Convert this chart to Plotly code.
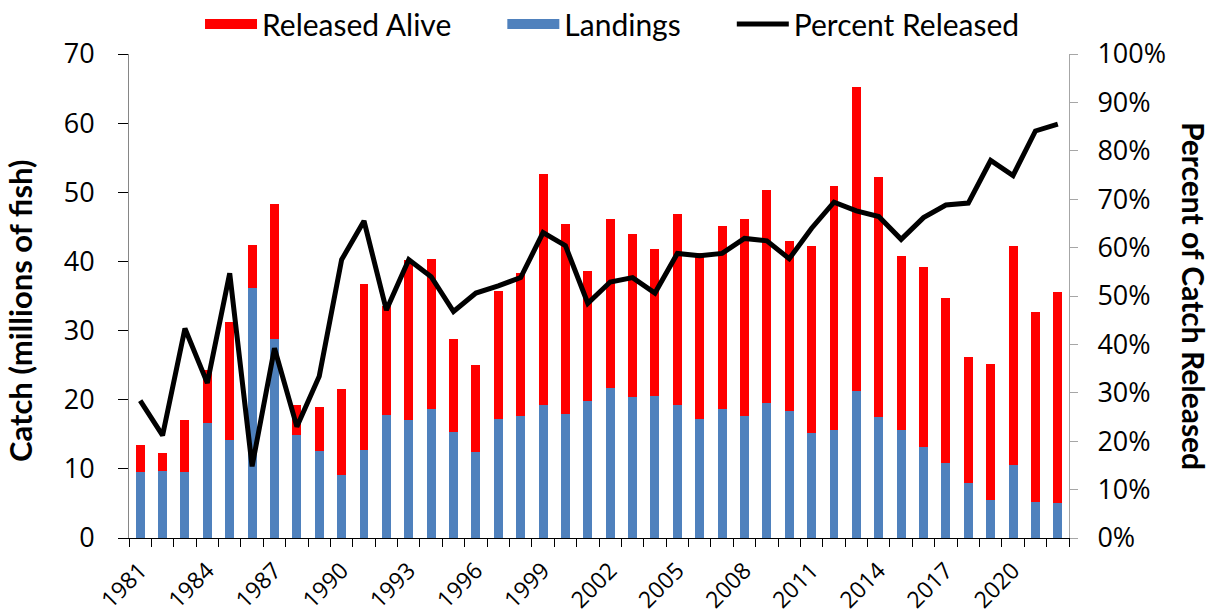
import plotly.graph_objects as go

years = list(range(1981, 2023))
landings = [9.6, 9.7, 9.6, 16.6, 14.2, 36.2, 28.8, 14.9, 12.6, 9.1,
            12.7, 17.8, 17.1, 18.7, 15.3, 12.4, 17.2, 17.7, 19.3, 18.0,
            19.8, 21.7, 20.4, 20.6, 19.3, 17.2, 18.6, 17.6, 19.5, 18.3,
            15.2, 15.6, 21.3, 17.5, 15.6, 13.2, 10.9, 8.0, 5.5, 10.6,
            5.2, 5.1]
released = [3.8, 2.6, 7.4, 7.7, 17.1, 6.2, 19.5, 4.4, 6.3, 12.4,
            24.0, 15.7, 23.1, 21.7, 13.5, 12.6, 18.5, 20.6, 33.3, 27.4,
            18.8, 24.4, 23.6, 21.2, 27.6, 24.0, 26.5, 28.6, 30.9, 24.7,
            27.0, 35.3, 44.0, 34.7, 25.2, 26.0, 23.8, 18.2, 19.6, 31.7,
            27.5, 30.5]
pct_released = [0.284, 0.212, 0.433, 0.320, 0.547, 0.148, 0.392, 0.230, 0.334, 0.575,
                0.655, 0.471, 0.575, 0.540, 0.468, 0.506, 0.521, 0.538, 0.631, 0.604,
                0.485, 0.529, 0.538, 0.506, 0.588, 0.583, 0.588, 0.619, 0.614, 0.577,
                0.640, 0.694, 0.676, 0.664, 0.617, 0.662, 0.688, 0.692, 0.780, 0.749,
                0.841, 0.855]
label_years = list(range(1981, 2023, 3))

RED = "#FF0000"
BLUE = "#4F81BD"
TICKFONT = "Open Sans"
FONT = "Lato"
NB = "\u00a0"

fig = go.Figure()
fig.add_trace(go.Bar(x=years, y=landings, name="Landings", marker_color=BLUE,
                     marker_line_width=0, showlegend=False))
fig.add_trace(go.Bar(x=years, y=released, name="Released Alive", marker_color=RED,
                     marker_line_width=0, showlegend=False))
fig.add_trace(go.Scatter(x=years, y=pct_released, name="Percent Released", mode="lines",
                         line=dict(color="black", width=5), yaxis="y2", showlegend=False))

# legend entries
fig.add_trace(go.Scatter(x=[None], y=[None], mode="lines", name="Released Alive" + NB * 6,
                         line=dict(color=RED, width=18), legendrank=1))
fig.add_trace(go.Scatter(x=[None], y=[None], mode="lines", name="Landings" + NB * 6,
                         line=dict(color=BLUE, width=18), legendrank=2))
fig.add_trace(go.Scatter(x=[None], y=[None], mode="lines", name="Percent Released",
                         line=dict(color="black", width=5), legendrank=3))

tickfont = dict(family=TICKFONT, size=27, color="black")

fig.update_layout(
    width=1217, height=613,
    margin=dict(l=129, r=148, t=54, b=75),
    barmode="stack", bargap=0.6,
    plot_bgcolor="white", paper_bgcolor="white",
    font=dict(family=FONT, size=28, color="black"),
    legend=dict(orientation="h", x=0.5033, xref="container", xanchor="center",
                y=0.961, yref="container", yanchor="middle",
                font=dict(size=30), itemwidth=52, traceorder="normal",
                bgcolor="rgba(0,0,0,0)"),
    xaxis=dict(range=[1980.5, 2022.5], tickvals=label_years, ticktext=[str(y) for y in label_years],
               tickangle=-45, ticks="", showline=True, linecolor="black", linewidth=1,
               showgrid=False, zeroline=False, automargin=False,
               tickfont=dict(family=TICKFONT, size=23, color="black"),
               ticklabelstandoff=9,
               minor=dict(ticks="outside", ticklen=8, tick0=0.5, dtick=1, tickcolor="black",
                          showgrid=False)),
    yaxis=dict(range=[0, 70], dtick=10, ticks="outside", ticklen=10, tickcolor="black",
               showline=True, linecolor="#868686", linewidth=1, showgrid=False,
               zeroline=False, tickfont=tickfont, ticklabelstandoff=18, automargin=False),
    yaxis2=dict(range=[0, 1], dtick=0.1, tickformat=".0%", overlaying="y", side="right",
                ticks="outside", ticklen=8, tickcolor="#A6A6A6", showline=True,
                linecolor="#A6A6A6", linewidth=1, showgrid=False, zeroline=False,
                tickfont=tickfont, ticklabelstandoff=14, automargin=False),
    annotations=[
        dict(text="<b>Catch (millions of fish)</b>", xref="paper", yref="paper",
             x=-0.1165, y=0.47, textangle=-90, showarrow=False, font=dict(size=31),
             xanchor="center", yanchor="middle"),
        dict(text="<b>Percent of Catch Released</b>", xref="paper", yref="paper",
             x=1.1330, y=0.5, textangle=90, showarrow=False, font=dict(size=30),
             xanchor="center", yanchor="middle"),
    ],
)

fig.write_html("out.html", config={"displayModeBar": False},
               post_script="document.body.style.margin='0';")
